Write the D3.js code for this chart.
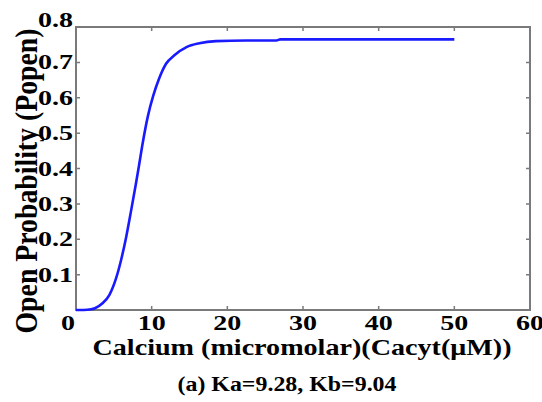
<!DOCTYPE html>
<html>

<head>
  <meta charset="utf-8">
  <title>Open Probability vs Calcium</title>
  <script src="https://d3js.org/d3.v7.min.js"></script>

  <style>
    body,
    html {
      margin: 0;
      padding: 0;
      background: #fff;
    }

    svg text {
      font-family: "Liberation Serif", "DejaVu Serif", "Times New Roman", serif;
      font-weight: bold;
      fill: #000;
    }

    .frame {
      fill: none;
      stroke: #7a7a7a;
      stroke-width: 2;
    }

    .tick-mark {
      stroke: #7a7a7a;
      stroke-width: 1.5;
    }

    .line {
      fill: none;
      stroke: #1a1aff;
      stroke-width: 2.6;
    }
  </style>
</head>

<body>
  <div id="chart"></div>

  <script>
    // values
    const calcium = [0, 1, 2, 2.5, 3.5, 4.4, 5.3, 6.0, 6.6, 7.3, 7.9, 8.3, 8.8, 9.5, 10.2, 11.0, 11.9, 13.0, 14.6, 16.3, 18.5, 22.5, 26.5, 27, 35, 50]
    const popen = [0, 0, 0.002, 0.005, 0.019, 0.042, 0.09, 0.145, 0.203, 0.283, 0.355, 0.405, 0.47, 0.548, 0.605, 0.655, 0.696, 0.72, 0.743, 0.754, 0.76, 0.762, 0.762, 0.765, 0.765, 0.765]
    const xTicks = [0, 10, 20, 30, 40, 50, 60]
    const yTicks = [0.1, 0.2, 0.3, 0.4, 0.5, 0.6, 0.7, 0.8]

    const W = 542, H = 402
    const margin = { left: 76, top: 27, right: 12, bottom: 92 }
    const width = W - margin.left - margin.right
    const height = H - margin.top - margin.bottom
    const serif = '"Liberation Serif", "DejaVu Serif", "Times New Roman", serif'

    const svg = d3.select('#chart').append('svg')
      .attr('width', W)
      .attr('height', H)

    const chart = svg.append('g')
      .attr('transform', `translate(${margin.left},${margin.top})`)

    const xScale = d3.scaleLinear().domain([0, 60]).range([0, width])
    const yScale = d3.scaleLinear().domain([0, 0.8]).range([height, 0])

    // inward ticks on all four sides
    const tickLen = 4
    chart.selectAll('.xt')
      .data(xTicks.slice(1, -1))
      .enter()
      .append('path')
      .attr('class', 'tick-mark')
      .attr('d', d => `M${xScale(d)},${height}v${-tickLen}M${xScale(d)},0v${tickLen}`)
    chart.selectAll('.yt')
      .data(yTicks.slice(0, -1))
      .enter()
      .append('path')
      .attr('class', 'tick-mark')
      .attr('d', d => `M0,${yScale(d)}h${tickLen}M${width},${yScale(d)}h${-tickLen}`)

    chart.append('rect')
      .attr('class', 'frame')
      .attr('width', width)
      .attr('height', height)

    // curve
    const line = d3.line()
      .x((d, i) => xScale(calcium[i]))
      .y(d => yScale(d))
      .curve(d3.curveMonotoneX)

    chart.append('path')
      .datum(popen)
      .attr('class', 'line')
      .attr('d', line)

    // x tick labels
    chart.selectAll('.xl')
      .data(xTicks)
      .enter()
      .append('text')
      .attr('font-family', serif)
      .attr('x', d => xScale(d) + (d === 0 ? -8 : 0))
      .attr('y', height + 20)
      .attr('text-anchor', 'middle')
      .attr('font-size', 21)
      .attr('textLength', d => d === 0 ? 14 : 28)
      .attr('lengthAdjust', 'spacingAndGlyphs')
      .text(d => d)

    // y tick labels
    chart.selectAll('.yl')
      .data(yTicks)
      .enter()
      .append('text')
      .attr('font-family', serif)
      .attr('x', -3)
      .attr('y', d => yScale(d) + (d === 0.8 ? 0 : 7))
      .attr('text-anchor', 'end')
      .attr('font-size', 21)
      .attr('textLength', 35)
      .attr('lengthAdjust', 'spacingAndGlyphs')
      .text(d => d.toFixed(1))

    // axis titles
    svg.append('text')
      .attr('font-family', serif)
      .attr('x', 302)
      .attr('y', 355)
      .attr('text-anchor', 'middle')
      .attr('font-size', 22.5)
      .attr('textLength', 419)
      .attr('lengthAdjust', 'spacingAndGlyphs')
      .text('Calcium (micromolar)(Cacyt(\u03bcM))')

    svg.append('text')
      .attr('font-family', serif)
      .attr('transform', 'translate(37,181) rotate(-90) scale(1,1.2)')
      .attr('text-anchor', 'middle')
      .attr('font-size', 27)
      .attr('textLength', 305)
      .attr('lengthAdjust', 'spacingAndGlyphs')
      .text('Open Probability (Popen)')

    // caption
    svg.append('text')
      .attr('font-family', serif)
      .attr('x', 287)
      .attr('y', 391)
      .attr('text-anchor', 'middle')
      .attr('font-size', 20)
      .attr('textLength', 219)
      .attr('lengthAdjust', 'spacingAndGlyphs')
      .text('(a) Ka=9.28, Kb=9.04')
  </script>
</body>

</html>
